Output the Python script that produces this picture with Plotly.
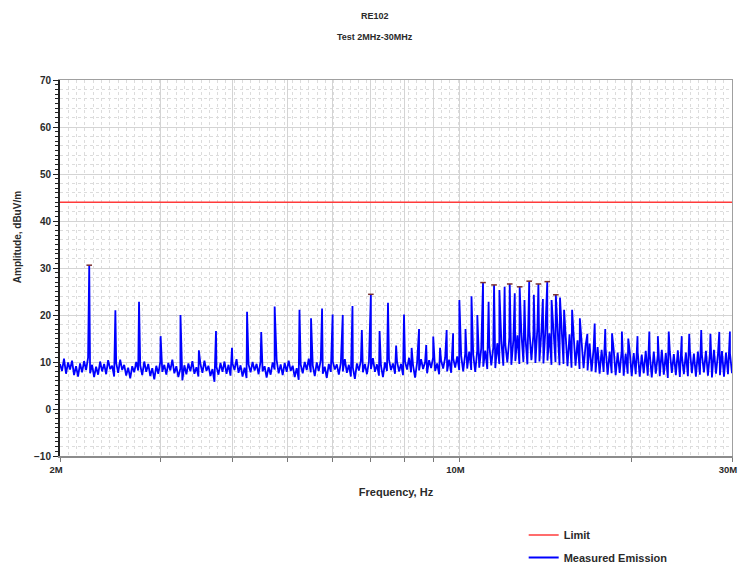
import numpy as np
import plotly.graph_objects as go

# ---- sweep settings ----
F_START_HZ = 2e6
F_STOP_HZ = 30e6
LIMIT_DBUV = 44.0

# ---- receiver noise floor, one reading per sweep bin (dBuV/m) ----
floor_2_10 = [
    9.6, 8.1, 10.7, 7.5, 9.9, 8.4, 10.3, 7.2, 9.1, 6.9,
    9.7, 7.8, 10.2, 8.3, 10.9, 7.6, 9.4, 6.8, 9.0, 7.3,
    10.1, 8.0, 9.6, 7.4, 10.4, 8.5, 9.2, 6.9, 9.8, 7.7,
    10.5, 8.3, 9.4, 7.1, 8.8, 6.5, 9.1, 7.8, 10.0, 8.2,
    9.3, 7.2, 10.1, 7.9, 9.6, 7.0, 8.7, 6.3, 9.2, 7.5,
    10.0, 7.9, 9.4, 7.3, 9.8, 8.2, 10.5, 7.6, 9.1, 6.8,
    8.6, 6.1, 9.3, 7.4, 9.7, 8.0, 10.2, 7.5, 8.9, 6.9,
    9.6, 7.7, 10.3, 8.1, 9.2, 7.0, 8.5, 5.8, 9.0, 7.3,
    9.8, 7.9, 10.1, 7.5, 9.4, 7.1, 9.7, 8.3, 10.6, 7.7,
    9.3, 6.9, 8.8, 6.6, 9.5, 7.8, 10.0, 8.2, 9.6, 7.4,
    10.2, 8.0, 9.1, 6.7, 8.9, 7.3, 9.9, 8.4, 10.4, 7.6,
    9.5, 7.2, 9.8, 7.9, 10.3, 8.1, 9.2, 6.8, 8.7, 6.2,
    9.4, 7.6, 10.0, 8.3, 10.7, 7.8, 9.3, 7.0, 9.9, 8.1,
    10.4, 7.5, 9.0, 6.6, 9.6, 7.9, 10.1, 8.4, 9.5, 7.3,
    9.8, 8.0, 10.6, 7.7, 9.4, 6.9, 8.8, 6.4, 9.7, 8.2,
    10.3, 7.8, 9.6, 7.4, 10.0, 8.5, 10.8, 7.9, 9.5, 7.1,
    9.2, 6.8, 9.9, 8.1, 10.5, 8.3, 9.7, 7.5, 10.2, 8.0,
    9.6, 7.2, 10.1, 8.4, 10.9, 7.8, 9.3, 6.7, 9.8, 8.2,
    10.6, 8.5, 10.0, 7.6, 10.4, 8.7, 11.0, 8.1, 9.7, 7.4,
    10.3, 8.6, 10.9, 8.0, 10.5, 7.7, 10.8, 8.8, 11.2, 8.3,
]
floor_10_20 = [
    11.3, 8.0, 11.8, 8.6, 12.2, 8.3, 11.6, 7.9, 12.5, 8.8,
    12.9, 9.0, 12.4, 8.5, 13.6, 9.3, 13.1, 8.7, 14.0, 9.6,
    14.5, 9.2, 13.8, 9.9, 15.1, 9.4, 14.6, 10.2, 15.7, 9.6,
    16.2, 10.0, 15.4, 9.5, 16.8, 10.4, 15.9, 9.8, 17.3, 10.1,
    16.6, 9.7, 17.0, 10.3, 16.1, 9.4, 16.9, 10.0, 15.8, 9.3,
    16.3, 9.6, 15.5, 9.1, 15.9, 8.8, 14.9, 9.2, 14.6, 8.5,
    14.1, 8.7, 13.5, 8.2, 13.9, 8.0, 12.8, 7.8, 13.2, 7.5,
    12.6, 7.9, 12.9, 7.3, 12.2, 7.6, 12.7, 7.2, 12.0, 7.7,
    12.4, 7.1, 11.8, 7.5, 12.3, 7.0, 11.9,
]
floor_20_30 = [
    7.4, 12.1, 6.9, 11.6, 7.6, 12.4, 7.1, 11.8, 6.7, 12.2,
    7.5, 11.5, 7.0, 12.6, 7.3, 11.9, 6.6, 12.3, 7.7, 11.7,
    7.2, 12.5, 6.8, 11.4, 7.4, 12.0, 7.0, 12.7, 7.6, 11.8,
    6.9, 12.2, 7.3, 11.6, 7.8, 12.4, 7.1, 11.9, 6.7, 12.6,
    7.5, 11.7, 7.2, 12.3, 6.9, 12.0, 7.4, 11.8, 7.6,
]

# ---- narrowband emissions (harmonics of the 250 kHz converter) ----
spike_mhz = [
    2.25, 2.5, 2.75, 3.0, 3.25, 3.5, 3.75, 4.0, 4.25, 4.5, 4.75,
    5.25, 5.5, 5.75, 6.0, 6.25, 6.5, 6.75, 7.0, 7.25, 7.5, 7.75,
    8.0, 8.25, 8.5, 8.75, 9.0, 9.25, 9.5, 9.75,
    10.0, 10.25, 10.5, 10.75, 11.0, 11.25, 11.5, 11.75, 12.0, 12.25,
    12.5, 12.75, 13.0, 13.25, 13.5, 13.75, 14.0, 14.25, 14.5, 14.75,
    15.0, 15.25, 15.75, 16.25, 16.75, 17.25, 18.0, 18.5, 19.25, 19.75,
    20.5, 21.5, 22.25, 23.25, 24.5, 25.25, 26.5, 27.5, 28.5, 29.75,
]
spike_dbuv = [
    30.6, 21.0, 22.8, 15.5, 20.0, 12.5, 16.6, 13.0, 20.7, 16.4, 21.8,
    21.1, 19.3, 21.4, 20.1, 20.0, 21.9, 16.8, 24.4, 16.6, 22.6, 13.5,
    20.1, 13.0, 17.0, 13.6, 15.4, 13.0, 16.8, 16.1,
    23.2, 17.0, 24.0, 20.0, 26.9, 22.8, 26.4, 25.3, 26.0, 26.6,
    24.6, 26.0, 23.2, 27.2, 24.3, 26.6, 23.4, 27.1, 23.2, 24.3,
    23.7, 21.1, 21.1, 19.3, 16.0, 18.2, 17.0, 16.1, 16.5, 15.0,
    15.5, 16.5, 15.5, 16.5, 15.5, 16.0, 16.8, 16.0, 16.4, 16.5,
]

# peaks flagged by the peak search
flagged_mhz = [2.25, 7.0, 11.0, 11.5, 12.25, 12.75, 13.25, 13.75, 14.25, 14.75]

# ---- assemble the measured trace ----
floor_dbuv = np.array(floor_2_10 + floor_10_20 + floor_20_30)
sweep_hz = np.geomspace(F_START_HZ, F_STOP_HZ, len(floor_dbuv))
spike_hz = np.array(spike_mhz) * 1e6
all_hz = np.concatenate([sweep_hz, spike_hz])
all_dbuv = np.concatenate([floor_dbuv, np.array(spike_dbuv)])
order = np.argsort(all_hz, kind="stable")
meas_hz = all_hz[order]
meas_dbuv = all_dbuv[order]

spike_lookup = dict(zip(spike_mhz, spike_dbuv))
flag_hz = [m * 1e6 for m in flagged_mhz]
flag_dbuv = [spike_lookup[m] for m in flagged_mhz]

FONT = "Liberation Sans"
TXT = "#2a2a2a"


def bold(size):
    return dict(family=FONT, size=size, color=TXT, weight="bold")


fig = go.Figure()

# invisible trace that anchors the dotted background grid axes
fig.add_trace(go.Scatter(x=[0], y=[None], xaxis="x", yaxis="y",
                         showlegend=False, hoverinfo="skip"))

fig.add_trace(go.Scatter(
    x=[F_START_HZ, F_STOP_HZ], y=[LIMIT_DBUV, LIMIT_DBUV],
    mode="lines", name="Limit", line=dict(color="#ff3b3b", width=1.5),
    xaxis="x2", yaxis="y2", legend="legend",
))
fig.add_trace(go.Scatter(
    x=meas_hz, y=meas_dbuv, mode="lines", name="Measured Emission",
    line=dict(color="#0000ff", width=1.8),
    xaxis="x2", yaxis="y2", legend="legend2",
))
fig.add_trace(go.Scatter(
    x=flag_hz, y=flag_dbuv, mode="markers", showlegend=False,
    marker=dict(symbol="line-ew", size=4, line=dict(color="#7a3030", width=1.5)),
    xaxis="x2", yaxis="y2",
))

grid_minor = "#dcdcdc"
grid_major = "#d4d4d4"
x_end = np.log10(F_STOP_HZ) + 1e-6

fig.update_layout(
    width=739, height=572,
    margin=dict(l=60, r=7, t=80, b=116),
    paper_bgcolor="white", plot_bgcolor="white",
    font=bold(9),
    showlegend=True,
    legend=dict(x=0.69, y=-0.210, xanchor="left", yanchor="middle",
                font=bold(11), bgcolor="rgba(0,0,0,0)"),
    legend2=dict(x=0.69, xref="paper", y=0.0, yref="container",
                 xanchor="left", yanchor="bottom",
                 font=bold(11), bgcolor="rgba(0,0,0,0)"),
    # background dotted grid (uniform spacing)
    xaxis=dict(range=[0, 81], dtick=1, showgrid=True, gridcolor=grid_minor,
               griddash="dot", gridwidth=1, showticklabels=False, ticks="",
               zeroline=False, side="top", showline=True, linecolor="#a0a0a0",
               linewidth=1, automargin=False),
    yaxis=dict(range=[-10, 70], dtick=2, showgrid=True, gridcolor=grid_minor,
               griddash="dot", gridwidth=1, showticklabels=False, ticks="",
               zeroline=False, side="right", showline=True, linecolor="#a0a0a0",
               linewidth=1, automargin=False),
    # measurement axes
    xaxis2=dict(type="log", overlaying="x", side="bottom",
                range=[np.log10(F_START_HZ), x_end],
                tickvals=[2e6, 3e6, 4e6, 5e6, 6e6, 7e6, 8e6, 9e6, 10e6, 20e6, 30e6],
                ticktext=["2M", "", "", "", "", "", "", "", "10M", "", "30M"],
                ticklabeloverflow="allow", ticklabelshift=-4,
                showgrid=True, gridcolor=grid_major, gridwidth=1,
                ticks="outside", ticklen=4, tickcolor="#777",
                showline=True, linecolor="#8c8c8c", linewidth=2,
                tickfont=bold(9.5), zeroline=False, automargin=False,
                title=dict(text="Frequency, Hz", standoff=14, font=bold(11))),
    yaxis2=dict(overlaying="y", side="left", range=[-10, 70], dtick=10,
                showgrid=True, gridcolor=grid_major, gridwidth=1,
                ticks="outside", ticklen=5, tickcolor="#222",
                minor=dict(dtick=1, ticks="outside", ticklen=3, tickcolor="#222",
                           showgrid=False),
                showline=True, linecolor="#222", linewidth=2, zeroline=False,
                tickfont=bold(10), automargin=False),
    annotations=[
        dict(text="RE102", xref="paper", yref="paper", x=0.469, y=1.170,
             yanchor="middle", showarrow=False, font=bold(9)),
        dict(text="Test 2MHz-30MHz", xref="paper", yref="paper", x=0.469, y=1.114,
             yanchor="middle", showarrow=False, font=bold(9)),
        dict(text="Amplitude, dBuV/m", xref="paper", yref="paper", x=-0.064,
             y=0.582, textangle=-90, xanchor="center", yanchor="middle",
             showarrow=False, font=bold(10)),
    ],
)

fig.write_html("out.html")
